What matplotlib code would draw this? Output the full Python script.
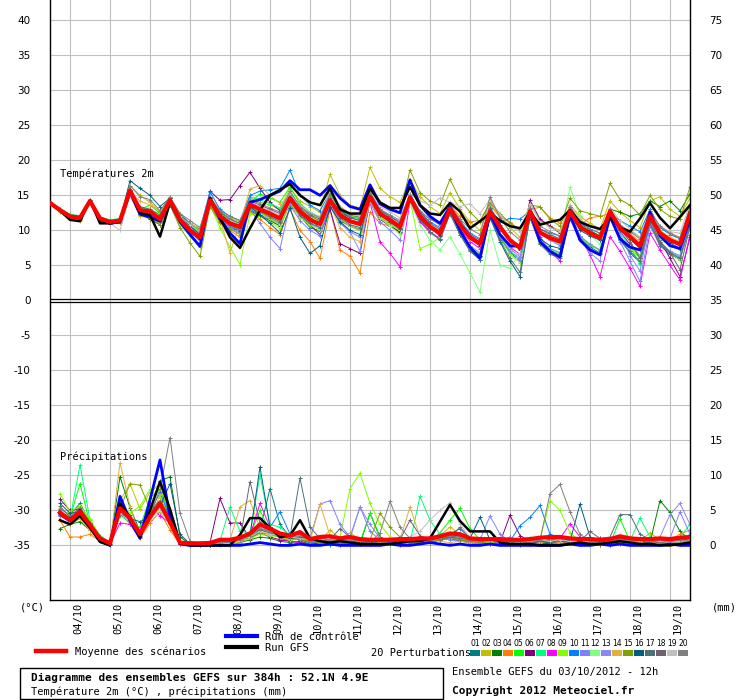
import matplotlib
matplotlib.use("Agg")
import matplotlib.pyplot as plt
import matplotlib.transforms as mtransforms
from matplotlib.lines import Line2D
from matplotlib.patches import Rectangle

# ---------------- DATA ----------------
# time axis: hours since 03/10/2012 12h
hours_t = list(range(0, 385, 6))          # temperature samples (65)
hours_p = list(range(6, 385, 6))          # precipitation samples (64)
day_labels = ["04/10", "05/10", "06/10", "07/10", "08/10", "09/10", "10/10", "11/10",
              "12/10", "13/10", "14/10", "15/10", "16/10", "17/10", "18/10", "19/10"]
day_hours = [12 + 24 * k for k in range(16)]

temp_ticks = [0, 5, 10, 15, 20, 25, 30, 35, 40]
temp_ticks_low = [-5, -10, -15, -20, -25, -30, -35]
precip_offset = -35   # precipitation (mm) is drawn on the same axis, 0 mm at -35

# --- temperature 2m (degC) ---
mean_t = [13.9, 12.9, 12.0, 11.8, 14.2, 11.7, 11.2, 11.4,
          15.7, 12.9, 12.7, 11.6, 14.3, 11.5, 10.0, 9.0,
          14.3, 12.0, 11.0, 10.5, 13.7, 13.0, 12.4, 11.7,
          14.6, 12.7, 11.5, 10.9, 14.3, 12.2, 11.3, 10.9,
          14.8, 12.4, 11.5, 10.5, 14.7, 12.0, 10.5, 9.6,
          13.1, 10.8, 9.0, 8.1, 12.7, 10.5, 8.6, 7.5,
          12.7, 9.7, 8.9, 8.4, 12.7, 10.5, 9.6, 8.9,
          12.7, 10.3, 9.1, 7.8, 12.0, 9.6, 8.6, 8.0,
          12.4]
ctrl_t = [14.0, 12.9, 12.0, 11.8, 14.2, 11.5, 11.0, 11.2,
          15.5, 12.3, 11.9, 11.3, 14.1, 11.2, 9.4, 7.7,
          14.6, 11.6, 9.6, 8.1, 14.0, 14.4, 15.0, 15.6,
          17.1, 15.8, 15.8, 15.0, 16.4, 14.6, 13.4, 13.0,
          16.5, 13.8, 13.0, 12.5, 17.2, 13.6, 12.0, 11.0,
          13.4, 10.0, 7.6, 6.0, 12.4, 9.4, 7.8, 7.7,
          12.6, 8.4, 7.0, 6.2, 12.2, 8.6, 7.2, 6.5,
          12.0, 8.8, 7.6, 7.2, 12.6, 9.2, 7.8, 7.4,
          11.6]
gfs_t = [13.9, 12.8, 11.5, 11.3, 14.3, 11.0, 11.0, 11.2,
         15.6, 12.5, 12.2, 9.1, 14.0, 11.5, 10.0, 8.8,
         14.6, 11.8, 9.0, 7.5, 10.3, 12.9, 15.0, 15.8,
         16.6, 15.0, 14.0, 13.6, 16.0, 13.0, 12.4, 12.4,
         16.0, 14.0, 13.2, 13.2, 16.2, 13.6, 12.4, 12.2,
         13.9, 12.7, 10.3, 11.3, 12.4, 11.4, 10.6, 10.3,
         12.6, 10.8, 11.2, 11.5, 12.9, 11.2, 10.6, 10.2,
         11.8, 10.4, 9.8, 11.7, 13.9, 11.8, 10.3, 11.9,
         13.6]
t01 = [14.0, 12.8, 11.9, 11.7, 14.1, 11.5, 11.0, 11.2,
       15.2, 12.4, 12.0, 11.2, 14.0, 11.0, 9.8, 8.6,
       14.0, 11.4, 10.4, 9.8, 13.0, 12.2, 11.5, 10.8,
       14.0, 12.0, 10.4, 9.9, 14.0, 11.4, 10.6, 10.0,
       14.6, 11.9, 10.8, 9.6, 14.2, 11.3, 9.7, 8.8,
       12.4, 9.4, 7.2, 5.8, 12.0, 9.0, 6.8, 5.6,
       11.8, 8.2, 7.0, 6.4, 12.0, 8.8, 7.6, 6.8,
       11.8, 8.6, 6.8, 5.4, 10.8, 7.8, 6.6, 5.8,
       10.8]
t02 = [13.8, 12.8, 11.8, 11.6, 14.3, 11.8, 11.4, 11.6,
       16.4, 15.0, 14.0, 12.6, 14.7, 12.2, 11.0, 9.8,
       14.8, 12.6, 11.8, 11.2, 14.6, 14.0, 13.6, 13.0,
       16.0, 14.2, 13.4, 12.6, 18.0, 15.0, 13.6, 13.2,
       19.0, 16.0, 14.8, 14.0, 17.2, 14.8, 13.4, 12.4,
       15.4, 13.0, 11.2, 10.0, 13.6, 11.8, 10.4, 9.0,
       13.8, 11.4, 10.6, 10.0, 13.6, 12.0, 11.0, 10.2,
       14.2, 12.6, 11.4, 10.4, 14.2, 14.8, 13.0, 12.0,
       14.6]
t03 = [13.9, 12.9, 12.1, 11.9, 14.2, 11.8, 11.3, 11.5,
       15.0, 12.2, 12.0, 11.0, 13.8, 12.0, 10.6, 9.5,
       13.6, 11.6, 10.6, 9.8, 12.8, 12.0, 11.4, 10.6,
       13.8, 12.0, 11.8, 10.2, 13.2, 12.6, 11.8, 12.0,
       15.6, 12.6, 11.2, 10.0, 14.4, 12.2, 10.8, 9.8,
       13.2, 10.6, 8.8, 7.8, 12.8, 10.2, 8.4, 7.2,
       12.2, 9.6, 9.0, 8.6, 13.4, 11.0, 10.0, 9.2,
       13.0, 12.6, 12.0, 12.4, 14.2, 13.4, 14.2, 12.8,
       15.2]
t04 = [13.8, 12.7, 11.7, 11.5, 14.0, 11.4, 10.9, 11.1,
       15.0, 12.0, 11.8, 11.6, 14.1, 11.4, 10.0, 8.8,
       13.8, 11.0, 10.0, 9.0, 12.6, 11.6, 10.4, 9.4,
       13.0, 10.0, 8.4, 6.0, 13.0, 7.2, 6.3, 3.9,
       12.6, 11.0, 10.6, 9.8, 14.0, 12.6, 11.6, 11.0,
       13.6, 12.0, 11.2, 11.4, 13.8, 12.0, 11.2, 10.0,
       13.0, 13.3, 11.8, 11.0, 12.8, 10.8, 11.8, 12.0,
       12.4, 10.6, 10.0, 9.0, 12.8, 10.4, 9.6, 8.8,
       13.0]
t05 = [14.1, 13.0, 12.2, 12.0, 14.4, 11.9, 11.4, 11.6,
       15.4, 13.0, 13.6, 12.4, 14.6, 12.4, 11.0, 10.0,
       14.6, 12.4, 11.4, 11.0, 14.0, 15.2, 14.6, 14.0,
       16.2, 13.8, 12.6, 11.8, 15.0, 13.0, 12.0, 11.6,
       15.2, 12.6, 11.6, 10.4, 14.8, 11.6, 9.6, 8.8,
       12.6, 9.6, 7.6, 6.4, 12.2, 9.2, 7.0, 6.0,
       12.0, 8.4, 7.2, 6.6, 12.0, 9.0, 7.8, 7.2,
       12.2, 8.8, 7.6, 6.0, 11.2, 8.4, 7.0, 6.2,
       11.4]
t06 = [13.9, 12.9, 12.0, 11.9, 14.2, 11.7, 11.3, 11.4,
       15.2, 12.4, 11.6, 10.8, 13.6, 11.0, 9.6, 8.8,
       15.6, 14.3, 14.4, 16.4, 18.3, 16.0, 14.0, 12.8,
       14.6, 12.2, 10.8, 9.4, 13.0, 8.1, 7.4, 6.7,
       14.2, 11.6, 10.6, 9.8, 14.6, 11.8, 10.4, 9.2,
       12.8, 10.4, 8.8, 7.8, 12.6, 10.2, 8.6, 7.4,
       14.3, 11.6, 10.6, 9.6, 12.8, 10.6, 9.6, 8.8,
       12.4, 9.8, 8.0, 6.4, 11.6, 8.6, 6.0, 3.4,
       9.0]
t07 = [14.0, 13.1, 12.3, 12.1, 14.4, 11.9, 11.5, 11.7,
       15.8, 13.2, 13.0, 12.2, 14.4, 11.8, 10.6, 9.6,
       14.4, 12.8, 11.6, 11.0, 14.8, 14.4, 13.8, 13.2,
       15.2, 13.6, 12.2, 11.2, 14.8, 12.6, 11.4, 10.8,
       14.8, 12.0, 11.0, 10.0, 14.2, 11.6, 10.2, 9.4,
       12.6, 10.6, 9.0, 8.2, 13.4, 10.4, 8.4, 7.6,
       13.2, 10.0, 8.8, 8.0, 13.0, 10.4, 9.6, 9.0,
       12.2, 9.8, 7.6, 5.2, 12.4, 10.0, 8.8, 8.2,
       13.4]
t08 = [13.8, 12.8, 11.9, 11.7, 14.1, 11.6, 11.1, 11.3,
       15.4, 12.6, 12.2, 11.4, 14.2, 11.6, 10.2, 9.0,
       14.2, 11.8, 10.8, 10.0, 13.2, 12.4, 11.6, 10.8,
       13.8, 12.0, 11.0, 10.2, 13.6, 11.6, 10.6, 10.2,
       14.0, 8.3, 6.7, 4.8, 14.2, 11.2, 9.8, 8.8,
       12.6, 10.2, 8.4, 7.4, 12.2, 9.4, 7.6, 6.6,
       12.0, 9.1, 7.0, 5.6, 12.2, 9.1, 6.5, 3.4,
       9.1, 7.0, 4.6, 2.0, 9.6, 7.2, 5.0, 2.9,
       9.4]
t09 = [13.9, 12.9, 12.1, 11.9, 14.2, 11.6, 11.2, 11.3,
       15.0, 12.2, 11.8, 11.0, 13.8, 10.8, 9.2, 7.6,
       13.6, 10.4, 7.6, 5.1, 12.4, 12.0, 11.2, 10.2,
       14.0, 11.8, 10.8, 10.0, 14.0, 11.6, 10.6, 10.0,
       14.4, 11.8, 10.8, 10.0, 14.4, 7.4, 8.0, 9.0,
       12.8, 9.8, 7.8, 6.6, 12.0, 8.8, 6.6, 5.4,
       12.2, 8.6, 7.4, 6.8, 12.2, 9.2, 8.0, 7.2,
       11.8, 9.0, 7.4, 6.2, 11.4, 8.2, 6.8, 5.8,
       11.2]
t10 = [14.0, 13.0, 12.1, 11.9, 14.3, 11.8, 11.3, 11.5,
       15.8, 13.0, 12.8, 11.8, 14.6, 12.2, 11.0, 10.2,
       15.5, 13.0, 12.0, 11.4, 15.0, 15.6, 15.8, 16.0,
       18.6, 15.0, 13.6, 12.8, 15.4, 13.0, 11.8, 11.4,
       15.4, 13.0, 12.0, 11.0, 15.2, 12.6, 11.2, 10.4,
       13.6, 11.4, 9.6, 8.8, 13.2, 11.2, 11.7, 11.6,
       12.8, 10.2, 9.6, 9.2, 13.0, 11.0, 10.2, 9.6,
       12.4, 11.4, 10.6, 9.8, 13.0, 10.4, 9.4, 8.8,
       12.6]
t11 = [13.8, 12.7, 11.8, 11.6, 14.0, 11.5, 11.0, 11.2,
       15.4, 12.8, 12.6, 11.6, 14.2, 11.4, 10.0, 8.8,
       14.0, 11.6, 10.4, 9.6, 13.0, 11.0, 9.0, 7.4,
       13.6, 11.4, 10.0, 9.2, 13.6, 11.0, 9.8, 9.0,
       14.0, 11.2, 10.0, 8.6, 14.6, 11.8, 10.4, 9.4,
       12.4, 9.6, 7.4, 6.2, 11.8, 9.0, 7.0, 5.8,
       12.0, 8.6, 7.4, 6.8, 12.2, 9.2, 8.0, 7.2,
       11.8, 8.4, 5.6, 2.7, 10.6, 8.0, 6.8, 6.0,
       11.0]
t12 = [14.0, 12.9, 12.0, 11.8, 14.2, 11.6, 11.1, 11.3,
       15.6, 12.8, 12.6, 11.6, 14.4, 11.6, 10.4, 10.6,
       13.8, 11.8, 10.8, 10.2, 13.2, 12.4, 11.6, 10.8,
       14.2, 12.2, 11.0, 10.2, 13.8, 11.8, 10.8, 10.4,
       14.2, 11.8, 10.6, 9.4, 14.0, 10.8, 8.6, 7.2,
       9.1, 6.6, 3.9, 1.2, 10.0, 5.0, 4.6, 6.7,
       12.0, 9.6, 9.0, 8.6, 16.2, 12.0, 9.4, 8.0,
       12.2, 9.0, 7.8, 6.4, 11.4, 8.8, 7.8, 7.2,
       11.6]
t13 = [13.9, 12.8, 11.9, 11.7, 14.1, 11.6, 11.1, 11.3,
       15.6, 12.6, 12.4, 11.4, 14.2, 11.4, 9.8, 8.4,
       14.2, 11.6, 10.6, 10.0, 13.4, 12.6, 12.0, 11.4,
       14.4, 12.4, 11.0, 10.4, 14.2, 11.4, 9.8, 7.0,
       14.6, 12.2, 11.2, 10.2, 14.6, 12.0, 10.6, 9.6,
       12.6, 9.8, 7.8, 6.8, 12.4, 9.4, 7.4, 6.2,
       12.6, 9.6, 8.6, 7.8, 12.4, 9.2, 6.8, 5.6,
       12.4, 9.6, 6.4, 4.2, 11.4, 8.2, 7.0, 6.4,
       11.6]
t14 = [13.7, 12.6, 11.6, 11.4, 14.0, 11.6, 11.0, 11.2,
       15.4, 14.2, 13.6, 12.8, 14.4, 11.8, 11.0, 10.2,
       14.2, 11.6, 6.8, 11.0, 15.9, 16.4, 15.0, 13.8,
       14.8, 12.8, 11.6, 11.0, 13.6, 10.4, 9.0, 8.4,
       14.2, 12.0, 11.0, 10.2, 14.4, 12.2, 10.8, 10.0,
       12.6, 10.4, 8.8, 8.0, 12.4, 10.2, 8.6, 7.6,
       12.4, 9.8, 9.2, 8.8, 12.6, 10.4, 9.6, 9.0,
       12.6, 10.6, 9.6, 8.4, 12.2, 10.0, 9.0, 8.4,
       12.8]
t15 = [13.8, 12.8, 11.9, 11.7, 14.2, 11.7, 11.2, 11.4,
       15.2, 12.4, 11.8, 10.8, 13.6, 10.4, 8.2, 6.3,
       13.4, 11.2, 10.2, 9.4, 13.2, 12.6, 11.8, 11.0,
       14.8, 13.0, 12.0, 11.4, 15.4, 13.4, 12.4, 12.0,
       16.0, 14.0, 13.2, 12.6, 18.6, 15.4, 14.2, 13.6,
       17.3, 14.4, 12.6, 11.2, 14.0, 12.4, 11.0, 10.0,
       13.6, 13.4, 11.6, 10.6, 14.6, 12.8, 12.4, 12.0,
       16.7, 14.4, 13.6, 12.2, 15.0, 13.0, 12.0, 11.6,
       16.2]
t16 = [13.9, 12.9, 12.0, 11.8, 14.3, 11.8, 11.3, 11.5,
       17.1, 16.0, 15.0, 13.4, 14.6, 12.0, 10.6, 9.4,
       14.6, 12.4, 11.2, 10.4, 13.4, 12.2, 11.0, 9.6,
       13.2, 9.0, 6.7, 7.8, 13.4, 11.2, 10.0, 9.4,
       14.6, 12.2, 11.2, 10.2, 14.6, 12.0, 10.4, 9.4,
       12.6, 9.8, 7.6, 6.4, 11.8, 8.4, 5.6, 3.4,
       12.0, 8.8, 7.8, 7.4, 12.4, 10.0, 9.2, 8.6,
       12.6, 10.0, 8.8, 7.4, 11.8, 9.4, 8.2, 7.4,
       11.8]
t17 = [13.8, 12.8, 11.9, 11.7, 14.1, 11.6, 11.1, 11.3,
       15.6, 12.8, 12.4, 11.4, 14.2, 11.4, 10.0, 8.8,
       14.2, 11.8, 10.8, 10.0, 13.6, 12.8, 12.0, 11.2,
       14.2, 12.2, 11.0, 10.4, 14.0, 11.8, 10.8, 10.4,
       14.8, 12.4, 11.4, 10.4, 14.6, 11.6, 9.8, 8.6,
       12.4, 9.4, 7.0, 5.8, 12.0, 8.6, 6.0, 4.0,
       11.8, 8.0, 6.6, 6.0, 11.6, 8.8, 7.4, 6.6,
       11.8, 8.8, 7.0, 5.6, 11.0, 8.0, 6.8, 6.0,
       10.8]
t18 = [13.9, 12.9, 12.0, 11.8, 14.2, 11.7, 11.2, 11.4,
       15.8, 13.4, 13.0, 12.2, 14.6, 12.2, 10.8, 9.8,
       14.6, 12.6, 11.6, 11.0, 14.2, 13.6, 13.0, 12.4,
       15.0, 13.2, 12.2, 11.6, 14.6, 12.8, 11.8, 11.4,
       15.0, 12.8, 12.0, 11.2, 15.2, 12.6, 11.0, 10.2,
       13.4, 11.2, 9.4, 8.6, 13.0, 10.8, 8.8, 7.8,
       13.0, 10.2, 9.4, 8.8, 12.8, 10.6, 9.6, 8.8,
       12.8, 10.2, 8.4, 6.0, 11.6, 8.4, 6.8, 4.4,
       10.6]
t19 = [14.0, 13.0, 12.1, 11.9, 14.3, 11.6, 11.0, 10.0,
       15.0, 12.6, 12.4, 11.6, 14.4, 12.0, 10.8, 9.8,
       14.4, 12.2, 11.4, 10.8, 14.0, 13.4, 12.8, 12.2,
       15.4, 13.6, 12.6, 12.0, 15.6, 13.4, 12.4, 12.0,
       15.6, 13.4, 12.6, 11.8, 15.2, 14.2, 13.6, 14.6,
       14.0, 13.4, 13.8, 12.4, 14.4, 12.2, 10.6, 9.8,
       13.8, 11.2, 10.4, 9.8, 13.6, 11.6, 10.6, 10.0,
       13.2, 11.4, 10.2, 9.0, 12.6, 10.6, 9.8, 9.6,
       13.8]
t20 = [13.9, 12.9, 12.0, 11.8, 14.2, 11.8, 11.3, 11.5,
       16.4, 14.8, 14.4, 12.8, 14.8, 12.4, 11.4, 10.4,
       14.8, 12.8, 12.0, 11.4, 14.4, 13.8, 13.2, 12.6,
       15.6, 13.4, 12.4, 11.8, 15.2, 13.2, 12.2, 11.8,
       15.4, 13.0, 12.2, 11.4, 15.0, 12.8, 11.6, 10.8,
       13.6, 11.6, 10.2, 9.4, 14.8, 11.8, 9.8, 8.6,
       13.2, 10.6, 9.8, 9.2, 13.4, 11.2, 10.2, 9.6,
       13.0, 10.8, 9.8, 8.8, 12.8, 10.6, 9.6, 9.0,
       13.2]

# --- precipitation (mm per 6h) ---
mean_p = [4.7, 3.6, 4.8, 2.9, 1.0, 0.3, 5.3, 3.9,
          1.6, 4.1, 6.0, 3.3, 0.4, 0.3, 0.3, 0.35,
          0.8, 0.8, 1.1, 1.7, 3.0, 2.4, 1.7, 1.4,
          1.9, 0.9, 1.2, 1.3, 1.0, 1.2, 0.9, 0.8,
          0.8, 0.8, 0.9, 0.9, 1.0, 1.0, 1.3, 1.7,
          1.6, 1.0, 0.9, 0.9, 0.9, 0.8, 0.8, 0.9,
          1.1, 1.2, 1.2, 1.0, 0.9, 0.9, 0.8, 0.9,
          1.3, 1.0, 0.9, 0.9, 1.0, 0.9, 1.1, 1.2]
ctrl_p = [4.5, 3.5, 5.0, 2.8, 0.6, 0.0, 7.0, 3.5,
          1.0, 6.5, 12.2, 4.0, 0.2, 0.0, 0.0, 0.0,
          0.0, 0.0, 0.0, 0.2, 0.4, 0.2, 0.0, 0.0,
          0.2, 0.0, 0.0, 0.2, 0.0, 0.0, 0.0, 0.0,
          0.0, 0.2, 0.0, 0.0, 0.2, 0.4, 0.2, 0.0,
          0.2, 0.0, 0.0, 0.2, 0.0, 0.0, 0.0, 0.0,
          0.0, 0.0, 0.0, 0.2, 0.0, 0.0, 0.2, 0.0,
          0.2, 0.0, 0.0, 0.0, 0.0, 0.2, 0.0, 0.0]
gfs_p = [3.6, 3.0, 4.2, 2.5, 0.5, 0.0, 6.0, 4.0,
         1.2, 5.0, 9.1, 5.2, 0.3, 0.0, 0.0, 0.0,
         0.0, 0.0, 1.5, 3.9, 3.9, 2.5, 1.2, 1.4,
         3.6, 1.0, 0.6, 0.4, 0.6, 0.4, 0.2, 0.2,
         0.2, 0.2, 0.4, 0.6, 0.6, 1.0, 3.4, 5.8,
         3.5, 2.0, 2.0, 2.0, 0.4, 0.2, 0.2, 0.2,
         0.0, 0.0, 0.0, 0.2, 0.4, 0.2, 0.2, 0.4,
         0.6, 0.4, 0.2, 0.2, 0.0, 0.0, 0.2, 0.4]
p01 = [5.2, 4.4, 6.0, 3.2, 0.8, 0.0, 5.8, 4.4,
       1.4, 4.8, 6.4, 4.0, 0.2, 0.0, 0.0, 0.0,
       0.2, 0.4, 0.6, 1.2, 2.2, 8.1, 3.0, 1.2,
       0.8, 0.4, 0.2, 0.0, 0.2, 0.4, 0.6, 0.2,
       0.3, 0.2, 0.4, 0.6, 0.8, 0.4, 0.8, 1.2,
       0.8, 0.4, 0.2, 0.6, 0.4, 0.2, 0.0, 0.2,
       0.4, 0.2, 0.6, 0.8, 0.4, 0.2, 0.0, 0.3,
       0.6, 0.4, 0.2, 0.8, 0.6, 0.4, 0.6, 1.0]
p02 = [5.4, 4.2, 5.6, 3.4, 1.2, 0.2, 6.4, 8.8,
       5.2, 7.6, 8.8, 3.8, 0.4, 0.2, 0.0, 0.0,
       0.4, 0.2, 0.8, 1.6, 2.4, 2.0, 1.2, 0.6,
       1.4, 0.6, 0.6, 2.2, 1.0, 1.8, 0.8, 0.2,
       0.4, 0.6, 0.4, 0.2, 0.8, 1.0, 1.4, 2.6,
       1.6, 0.6, 0.2, 0.4, 0.6, 0.2, 0.4, 0.6,
       0.8, 1.4, 0.8, 0.4, 0.2, 0.2, 0.4, 0.8,
       0.6, 1.2, 0.6, 1.8, 0.8, 0.6, 0.8, 0.4]
p03 = [2.4, 3.0, 3.4, 2.2, 0.8, 0.2, 9.8, 5.4,
       2.0, 5.0, 9.2, 9.8, 1.2, 0.2, 0.0, 0.0,
       0.2, 0.0, 0.4, 0.8, 1.2, 1.0, 0.6, 0.4,
       0.6, 0.2, 0.4, 0.2, 0.0, 0.4, 0.2, 4.6,
       1.2, 0.4, 0.2, 0.6, 0.4, 0.6, 1.0, 1.4,
       1.2, 0.6, 0.4, 0.2, 0.6, 1.2, 0.4, 0.2,
       0.6, 0.4, 1.0, 0.8, 0.4, 0.2, 0.4, 0.6,
       0.8, 1.0, 0.6, 0.4, 6.4, 4.7, 2.0, 0.8]
p04 = [3.6, 1.2, 1.2, 1.6, 0.6, 0.0, 4.8, 3.0,
       1.0, 3.2, 4.8, 2.2, 0.2, 0.0, 0.0, 0.0,
       0.0, 0.2, 0.4, 1.2, 2.6, 1.6, 1.4, 0.8,
       1.2, 0.6, 0.8, 0.4, 0.6, 0.2, 0.6, 0.4,
       0.2, 0.4, 0.6, 0.2, 0.4, 0.6, 0.8, 1.2,
       1.0, 0.6, 0.2, 0.4, 0.2, 0.6, 0.4, 0.2,
       0.2, 0.4, 0.6, 0.4, 0.6, 0.2, 0.0, 0.4,
       0.6, 0.2, 0.4, 0.6, 0.4, 0.8, 1.6, 2.2]
p05 = [4.8, 4.0, 8.8, 3.0, 0.8, 0.2, 4.6, 3.2,
       2.6, 6.8, 8.0, 4.2, 0.4, 0.2, 0.2, 0.0,
       0.4, 0.6, 0.8, 1.4, 5.0, 2.0, 1.2, 0.8,
       1.0, 0.4, 0.6, 0.8, 1.2, 0.6, 0.4, 4.6,
       1.0, 0.8, 0.4, 0.6, 1.0, 0.6, 1.8, 3.6,
       5.3, 2.4, 0.8, 0.4, 0.6, 0.4, 0.6, 1.0,
       0.4, 0.8, 1.0, 0.6, 0.4, 0.6, 0.4, 0.2,
       3.8, 0.6, 0.4, 0.6, 0.8, 0.6, 0.8, 1.0]
p06 = [6.6, 5.0, 5.2, 3.0, 1.0, 0.2, 4.4, 3.6,
       1.2, 3.6, 5.6, 3.0, 0.2, 0.0, 0.2, 0.4,
       6.7, 3.2, 3.2, 1.0, 1.8, 1.2, 0.8, 0.6,
       0.4, 0.2, 0.4, 0.8, 0.6, 0.4, 0.2, 0.2,
       0.4, 0.6, 0.2, 0.8, 0.6, 0.4, 0.8, 1.0,
       0.6, 0.4, 0.8, 0.6, 0.4, 4.3, 1.4, 0.6,
       0.4, 0.2, 0.6, 0.4, 0.2, 0.4, 0.2, 0.0,
       0.2, 0.4, 0.6, 0.2, 0.4, 0.2, 0.6, 0.4]
p07 = [5.0, 3.8, 11.5, 3.6, 1.4, 0.4, 4.2, 3.4,
       1.6, 4.0, 5.4, 3.4, 0.6, 0.2, 0.2, 0.2,
       0.6, 5.5, 2.0, 1.8, 10.0, 3.0, 2.6, 1.4,
       1.6, 0.8, 0.6, 0.4, 0.8, 1.0, 0.4, 0.6,
       0.4, 0.2, 0.6, 0.4, 7.0, 3.6, 1.6, 1.0,
       1.0, 0.8, 0.6, 0.4, 0.2, 0.6, 0.8, 0.4,
       0.6, 0.4, 0.8, 0.6, 0.4, 0.2, 0.6, 0.8,
       0.4, 0.6, 3.9, 1.2, 0.6, 0.8, 1.2, 3.0]
p08 = [4.2, 3.4, 4.4, 2.6, 0.8, 0.2, 3.2, 3.0,
       2.2, 6.0, 4.2, 3.2, 0.2, 0.0, 0.0, 0.0,
       0.2, 0.6, 1.0, 1.4, 6.0, 2.6, 1.0, 0.6,
       0.4, 0.2, 0.6, 0.4, 0.2, 0.4, 0.6, 0.2,
       0.2, 0.4, 0.0, 0.6, 0.4, 0.8, 1.0, 1.2,
       0.8, 0.6, 0.4, 0.2, 0.4, 0.6, 0.8, 0.6,
       0.4, 0.8, 1.0, 3.1, 1.2, 0.6, 0.4, 0.2,
       0.4, 0.6, 0.2, 0.4, 0.6, 0.4, 0.2, 0.6]
p09 = [7.4, 4.8, 5.6, 3.8, 1.2, 0.4, 6.2, 4.6,
       5.6, 8.0, 6.8, 4.0, 0.4, 0.2, 0.0, 0.2,
       0.4, 0.2, 0.6, 1.0, 1.6, 1.4, 1.2, 0.8,
       1.0, 0.6, 0.4, 0.8, 1.2, 8.1, 10.3, 6.0,
       3.0, 1.2, 0.8, 0.6, 0.4, 0.8, 1.0, 1.4,
       1.2, 0.8, 0.6, 0.4, 0.6, 0.4, 0.6, 0.8,
       0.8, 6.4, 5.0, 1.8, 0.6, 0.4, 0.6, 0.8,
       0.6, 0.8, 0.4, 0.6, 0.4, 0.6, 0.4, 0.8]
p10 = [4.6, 3.4, 4.6, 2.8, 1.0, 0.2, 6.6, 3.8,
       1.4, 4.6, 7.6, 3.8, 0.4, 0.0, 0.0, 0.0,
       0.4, 0.6, 0.8, 1.2, 2.0, 2.6, 4.8, 1.6,
       0.8, 0.4, 0.6, 0.2, 0.4, 0.6, 0.4, 0.2,
       0.6, 0.4, 0.6, 0.8, 0.6, 1.0, 1.2, 1.6,
       2.4, 1.0, 0.6, 0.8, 0.4, 0.6, 2.8, 4.0,
       5.7, 1.6, 0.8, 0.4, 0.2, 0.4, 0.6, 0.4,
       0.8, 0.6, 0.4, 0.6, 0.8, 0.6, 0.4, 0.6]
p11 = [5.0, 3.6, 4.4, 2.6, 1.0, 0.2, 5.0, 3.6,
       1.6, 4.4, 5.8, 3.2, 0.4, 0.2, 0.2, 0.2,
       0.6, 0.8, 1.2, 1.6, 2.4, 2.0, 1.6, 1.4,
       1.6, 1.0, 5.9, 6.4, 3.0, 1.2, 5.5, 2.0,
       0.8, 0.6, 0.8, 0.6, 0.8, 1.2, 1.0, 0.8,
       0.6, 0.8, 1.0, 0.6, 0.4, 1.2, 0.6, 0.4,
       0.6, 0.8, 0.6, 0.4, 0.6, 0.4, 0.4, 0.6,
       0.8, 0.6, 0.4, 0.6, 0.8, 1.0, 4.8, 1.6]
p12 = [4.6, 3.4, 4.2, 2.6, 0.8, 0.2, 4.2, 3.6,
       1.6, 3.8, 5.0, 3.0, 0.4, 0.2, 0.2, 0.2,
       0.6, 0.8, 1.0, 1.4, 2.0, 1.8, 1.4, 1.2,
       1.4, 0.8, 1.0, 0.8, 0.6, 0.8, 0.6, 0.6,
       0.6, 0.6, 0.8, 0.6, 0.8, 0.8, 1.0, 1.2,
       1.0, 0.8, 0.6, 0.8, 0.6, 0.6, 0.4, 0.6,
       0.8, 0.6, 0.8, 0.6, 0.8, 0.6, 0.4, 0.8,
       1.0, 0.8, 0.6, 0.8, 0.6, 0.8, 0.6, 0.8]
p13 = [4.4, 3.2, 4.6, 2.8, 1.0, 0.2, 5.6, 3.8,
       1.4, 4.2, 5.6, 3.4, 0.4, 0.2, 0.2, 0.2,
       0.4, 0.6, 0.8, 1.6, 2.6, 2.2, 1.6, 1.2,
       1.2, 0.8, 1.0, 1.2, 0.8, 1.0, 5.5, 3.0,
       1.0, 0.8, 0.6, 0.8, 0.6, 0.8, 1.2, 1.0,
       0.8, 0.6, 0.8, 4.2, 1.6, 0.6, 0.4, 0.6,
       0.6, 0.8, 0.6, 0.4, 0.6, 0.8, 0.6, 0.4,
       0.6, 0.8, 0.6, 0.4, 1.2, 4.4, 6.0, 3.0]
p14 = [3.6, 3.0, 3.8, 2.2, 0.8, 0.2, 11.8, 5.6,
       1.2, 3.6, 7.2, 3.0, 0.2, 0.0, 0.0, 0.2,
       0.4, 0.8, 5.5, 6.4, 2.4, 1.6, 1.2, 1.0,
       1.0, 0.6, 5.9, 1.4, 0.6, 0.4, 0.4, 0.6,
       0.4, 0.6, 0.8, 5.5, 1.2, 0.8, 0.6, 0.4,
       0.6, 0.4, 0.6, 0.8, 0.4, 0.2, 0.4, 0.6,
       0.4, 0.6, 0.4, 0.2, 0.4, 0.6, 0.4, 0.2,
       0.4, 0.2, 0.4, 0.6, 0.4, 0.2, 0.4, 0.6]
p15 = [4.4, 3.8, 4.8, 3.2, 1.0, 0.2, 5.2, 8.8,
       8.6, 5.2, 6.4, 3.6, 0.4, 0.2, 0.2, 0.2,
       0.4, 0.6, 0.8, 1.2, 1.8, 1.6, 1.2, 1.0,
       0.8, 0.6, 0.4, 0.6, 0.8, 0.4, 0.6, 0.8,
       4.6, 2.6, 1.2, 0.8, 0.6, 0.4, 0.8, 1.2,
       0.8, 0.6, 0.4, 0.6, 0.8, 0.4, 0.2, 0.4,
       0.6, 0.4, 0.2, 0.6, 0.4, 0.6, 0.4, 0.2,
       0.4, 0.6, 0.2, 0.4, 0.6, 0.4, 0.2, 0.4]
p16 = [6.0, 4.6, 4.8, 3.0, 1.2, 0.2, 4.6, 3.8,
       3.4, 4.0, 5.6, 8.8, 1.6, 0.2, 0.2, 0.2,
       0.4, 0.6, 0.8, 1.4, 11.2, 2.6, 1.6, 1.0,
       1.2, 0.8, 0.6, 0.4, 0.8, 0.6, 0.4, 0.6,
       0.8, 0.6, 0.4, 0.6, 0.6, 0.8, 1.0, 1.2,
       1.4, 1.0, 4.0, 0.8, 0.4, 0.6, 0.4, 0.2,
       0.6, 0.4, 0.8, 0.6, 5.9, 1.2, 0.6, 0.4,
       1.0, 0.8, 0.6, 0.4, 0.8, 0.6, 1.0, 0.8]
p17 = [5.6, 4.0, 5.4, 3.2, 1.0, 0.2, 4.4, 3.6,
       1.6, 4.2, 5.4, 3.2, 0.4, 0.2, 0.2, 0.2,
       0.4, 0.6, 0.8, 1.2, 2.2, 1.8, 1.4, 1.2,
       9.6, 2.6, 1.0, 0.8, 0.6, 0.8, 0.6, 0.4,
       0.6, 0.8, 0.6, 0.4, 0.6, 0.8, 1.0, 1.2,
       2.6, 1.0, 0.6, 0.8, 0.6, 0.4, 0.6, 0.8,
       0.6, 0.8, 0.6, 0.4, 0.6, 0.8, 1.0, 1.2,
       4.4, 4.4, 1.6, 0.8, 0.6, 0.8, 0.6, 0.8]
p18 = [4.8, 3.8, 4.6, 2.8, 1.0, 0.2, 4.8, 3.6,
       1.8, 4.6, 6.2, 3.8, 0.6, 0.2, 0.2, 0.2,
       0.4, 0.6, 0.8, 9.1, 3.2, 2.2, 1.6, 1.2,
       1.0, 0.8, 0.6, 0.8, 2.4, 1.2, 0.8, 0.6,
       0.8, 0.6, 0.8, 3.6, 1.4, 0.8, 1.0, 1.2,
       1.0, 0.8, 0.6, 0.8, 0.6, 0.8, 0.6, 0.4,
       0.6, 0.8, 0.6, 0.4, 0.6, 2.0, 1.0, 0.6,
       0.8, 0.6, 0.8, 0.6, 0.4, 0.6, 0.8, 0.6]
p19 = [4.6, 3.4, 4.2, 2.6, 0.8, 0.2, 4.6, 3.4,
       1.4, 4.0, 5.4, 3.0, 0.4, 0.2, 0.2, 0.2,
       0.4, 0.6, 0.8, 1.2, 2.0, 1.6, 1.4, 1.2,
       1.0, 0.8, 0.6, 0.8, 1.0, 0.8, 0.6, 0.8,
       0.6, 0.8, 1.0, 1.2, 2.0, 3.6, 5.0, 6.1,
       3.0, 1.2, 0.8, 0.6, 0.8, 0.6, 0.4, 0.6,
       0.8, 0.6, 0.8, 0.6, 0.4, 0.6, 0.8, 0.6,
       0.6, 0.8, 0.6, 0.8, 0.6, 0.4, 0.6, 0.8]
p20 = [4.4, 3.6, 5.0, 3.0, 1.0, 0.2, 5.0, 4.0,
       1.6, 4.4, 8.0, 15.4, 4.6, 0.6, 0.2, 0.2,
       0.4, 0.6, 0.8, 1.4, 2.4, 2.0, 1.6, 1.2,
       1.4, 0.8, 0.6, 0.8, 0.6, 0.8, 0.6, 0.4,
       1.8, 6.3, 2.6, 1.0, 0.8, 0.6, 1.0, 1.4,
       1.2, 0.8, 0.6, 0.8, 0.6, 0.8, 0.6, 0.4,
       0.8, 7.4, 8.7, 4.8, 1.6, 0.6, 0.4, 0.6,
       0.8, 0.6, 0.8, 0.6, 0.4, 0.6, 0.8, 0.6]

member_colors = ["#008080", "#c0c000", "#008000", "#ff8000", "#00ff00",
                 "#800080", "#00ff80", "#ff00ff", "#80ff00", "#0080ff",
                 "#8080ff", "#80ff80", "#8888f8", "#e0b040", "#80a000",
                 "#005f80", "#507078", "#706070", "#c0c0c0", "#808080"]
member_names = ["01", "02", "03", "04", "05", "06", "07", "08", "09", "10",
                "11", "12", "13", "14", "15", "16", "17", "18", "19", "20"]

temp_members = [t01, t02, t03, t04, t05, t06, t07, t08, t09, t10,
                t11, t12, t13, t14, t15, t16, t17, t18, t19, t20]
precip_members = [p01, p02, p03, p04, p05, p06, p07, p08, p09, p10,
                  p11, p12, p13, p14, p15, p16, p17, p18, p19, p20]

# ---------------- FIGURE ----------------
W, H = 740, 700
fig = plt.figure(figsize=(W / 100, H / 100), dpi=100)
fig.patch.set_facecolor("white")

def fx(px):
    return px / W

def fy(py):
    return 1 - py / H

ax = fig.add_axes([fx(50), fy(600), fx(690) - fx(50), fy(0) - fy(600)])
ax.set_xlim(0, 384)
ax.set_ylim(-42.8, 42.9)

grid_col = "#c0c0c0"
for h in day_hours:
    ax.axvline(h, color=grid_col, lw=0.8, zorder=1)
for v in temp_ticks[1:] + temp_ticks_low:
    ax.axhline(v, color=grid_col, lw=0.8, zorder=1)
# double separator line between the two panels
ax.axhline(0.15, color="black", lw=0.9, zorder=6)
ax.axhline(-0.25, color="black", lw=0.9, zorder=6)

mono = "DejaVu Sans Mono"

# members
for vals, col in zip(temp_members, member_colors):
    ax.plot(hours_t, vals, color=col, lw=0.7, marker="+", ms=3, mew=0.7, zorder=2)
for vals, col in zip(precip_members, member_colors):
    ax.plot(hours_p, [v + precip_offset for v in vals], color=col, lw=0.7,
            marker="+", ms=3, mew=0.7, zorder=2)

# control & GFS
ax.plot(hours_t, ctrl_t, color="#0000ff", lw=2.0, zorder=3)
ax.plot(hours_t, gfs_t, color="black", lw=1.8, zorder=3)
ax.plot(hours_p, [v + precip_offset for v in ctrl_p], color="#0000ff", lw=2.0, zorder=3)
ax.plot(hours_p, [v + precip_offset for v in gfs_p], color="black", lw=1.8, zorder=3)

# ensemble mean
ax.plot(hours_t, mean_t, color="#ff0000", lw=3.0, zorder=4)
ax.plot(hours_p, [v + precip_offset for v in mean_p], color="#ff0000", lw=3.0, zorder=4)

ax.text(6, 18.1, "Températures 2m", family=mono, fontsize=7.5, va="center", ha="left", zorder=7)
ax.text(6, -22.4, "Précipitations", family=mono, fontsize=7.5, va="center", ha="left", zorder=7)

# axes frame
for s in ["left", "right", "bottom"]:
    ax.spines[s].set_linewidth(1.0)
    ax.spines[s].set_color("black")
ax.spines["top"].set_visible(False)

# y tick labels
yt = temp_ticks + temp_ticks_low
ax.set_yticks(yt)
ax.set_yticklabels([str(v) for v in yt], family="DejaVu Sans", fontsize=7.5)
ax.tick_params(axis="y", length=0, pad=14)
ax2 = ax.twinx()
ax2.set_ylim(ax.get_ylim())
ax2.set_yticks(yt)
ax2.set_yticklabels([str(v - precip_offset) for v in yt], family="DejaVu Sans", fontsize=7.5)
ax2.tick_params(axis="y", length=0, pad=14)
for s in ax2.spines.values():
    s.set_visible(False)

# x tick labels
ax.set_xticks(day_hours)
ax.set_xticklabels(day_labels, rotation=90, family=mono, fontsize=7.5, va="top", ha="center")
ax.tick_params(axis="x", length=0, pad=2)
off = mtransforms.ScaledTranslation(8 / 100, 0, fig.dpi_scale_trans)
for lab in ax.get_xticklabels():
    lab.set_transform(lab.get_transform() + off)

# unit labels
fig.text(fx(20), fy(607), "(°C)", family=mono, fontsize=7.5, va="center", ha="left")
fig.text(fx(712), fy(607), "(mm)", family=mono, fontsize=7.5, va="center", ha="left")

# legend
fig.add_artist(Line2D([fx(36), fx(66)], [fy(651), fy(651)], color="#ff0000", lw=3.2))
fig.text(fx(75), fy(652), "Moyenne des scénarios", family=mono, fontsize=7.5, va="center")
fig.add_artist(Line2D([fx(226), fx(257)], [fy(636), fy(636)], color="#0000ff", lw=3.0))
fig.text(fx(265), fy(637), "Run de contrôle", family=mono, fontsize=7.5, va="center")
fig.add_artist(Line2D([fx(226), fx(257)], [fy(647), fy(647)], color="black", lw=3.0))
fig.text(fx(265), fy(648), "Run GFS", family=mono, fontsize=7.5, va="center")
fig.text(fx(371), fy(653), "20 Perturbations", family=mono, fontsize=7.5, va="center")
for k, (nm, col) in enumerate(zip(member_names, member_colors)):
    x0 = 470 + k * 10.95
    fig.add_artist(Rectangle((fx(x0), fy(656)), fx(10), fy(650) - fy(656),
                             transform=fig.transFigure, facecolor=col, edgecolor="none"))
    fig.text(fx(x0 + 5), fy(644), nm, family="DejaVu Sans", fontsize=5.5,
             va="center", ha="center")

# title box
fig.add_artist(Rectangle((fx(20), fy(699)), fx(443) - fx(20), fy(668) - fy(699),
                         transform=fig.transFigure, facecolor="none",
                         edgecolor="black", lw=1.0))
fig.text(fx(31), fy(678), "Diagramme des ensembles GEFS sur 384h : 52.1N 4.9E",
         family=mono, fontsize=8, weight="bold", va="center")
fig.text(fx(31), fy(692), "Température 2m (°C) , précipitations (mm)",
         family=mono, fontsize=7.5, va="center")
fig.text(fx(452), fy(672), "Ensemble GEFS du 03/10/2012 - 12h",
         family=mono, fontsize=7.5, va="center")
fig.text(fx(452), fy(691), "Copyright 2012 Meteociel.fr",
         family=mono, fontsize=8, weight="bold", va="center")

fig.savefig("out.png", dpi=100, facecolor="white")
